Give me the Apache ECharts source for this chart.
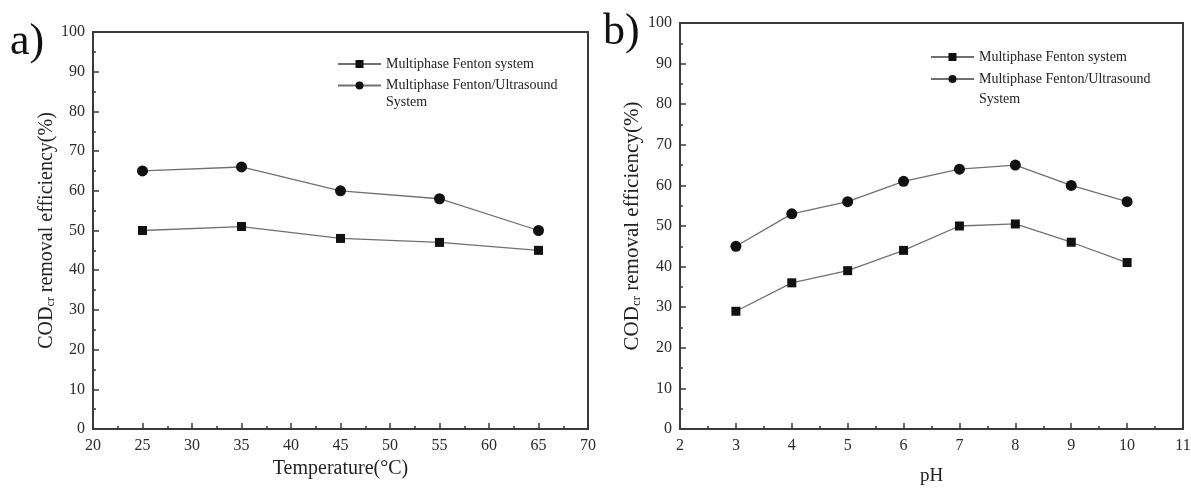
<!DOCTYPE html>
<html>
<head>
<meta charset="utf-8">
<script src="https://cdn.jsdelivr.net/npm/echarts@6/dist/echarts.min.js"></script>
<style>
html,body{margin:0;padding:0;background:#fff;}
#c{width:1191px;height:488px;}
</style>
</head>
<body>
<div id="c"></div>
<script>
// ---- data ----
const tempX = [25, 35, 45, 55, 65];
const tempFenton = [50, 51, 48, 47, 45];
const tempFentonUS = [65, 66, 60, 58, 50];

const phX = [3, 4, 5, 6, 7, 8, 9, 10];
const phFenton = [29, 36, 39, 44, 50, 50.5, 46, 41];
const phFentonUS = [45, 53, 56, 61, 64, 65, 60, 56];

const nameA = 'Multiphase Fenton system';
const nameB = 'Multiphase Fenton/Ultrasound\nSystem';
const xNameA = 'Temperature(°C)';
const xNameB = 'pH';
const yName = '{a|COD}{s|cr}{a| removal efficiency(%)}';

const FF = '"Liberation Serif","DejaVu Serif",serif';
const AX = '#3a3a3a';
const LINE = '#707070';
const MK = '#111';

function pairs(xs, ys){ return xs.map((x,i)=>[x, ys[i]]); }

function xAxis(gi, min, max, interval, name, gap, fs){
  return {
    gridIndex: gi, type: 'value', min, max, interval,
    name, nameLocation: 'middle', nameGap: gap,
    nameTextStyle: {fontFamily: FF, fontSize: fs, color: '#222'},
    axisLine: {show: true, onZero: false, lineStyle: {color: AX, width: 2}},
    axisTick: {show: true, inside: true, length: 6, lineStyle: {color: AX, width: 1.5}},
    minorTick: {show: true, splitNumber: 2, length: 3, lineStyle: {color: AX, width: 1.5}},
    axisLabel: {fontFamily: FF, fontSize: 16, color: '#2a2a2a', margin: 9},
    splitLine: {show: false}
  };
}
function yAxis(gi, gap, fs){
  return {
    gridIndex: gi, type: 'value', min: 0, max: 100, interval: 10,
    name: yName, nameLocation: 'middle', nameGap: gap, nameRotate: 90,
    nameTextStyle: {fontFamily: FF, fontSize: fs, color: '#222',
      rich: {a: {fontFamily: FF, fontSize: fs, color: '#222'},
             s: {fontFamily: FF, fontSize: Math.round(fs * 0.6), color: '#222', padding: [8,0,0,0]}}},
    axisLine: {show: true, onZero: false, lineStyle: {color: AX, width: 2}},
    axisTick: {show: true, inside: true, length: 6, lineStyle: {color: AX, width: 1.5}},
    minorTick: {show: true, splitNumber: 2, length: 3, lineStyle: {color: AX, width: 1.5}},
    axisLabel: {fontFamily: FF, fontSize: 16, color: '#2a2a2a', margin: 8},
    splitLine: {show: false}
  };
}
function series(name, gi, data, symbol, size){
  return {
    name, type: 'line', xAxisIndex: gi, yAxisIndex: gi, data,
    symbol, symbolSize: size, showSymbol: true,
    lineStyle: {color: LINE, width: 1.3},
    itemStyle: {color: MK, borderWidth: 0},
    emphasis: {disabled: true}, animation: false, z: 3
  };
}
function legend(name, left, top, lh, blankFirst){
  return {
    data: [name], left, top, padding: 0, itemWidth: 43, itemHeight: 10,
    selectedMode: false,
    formatter: blankFirst ? (n => ' \n' + n) : (n => n),
    textStyle: {fontFamily: FF, fontSize: 14, color: '#222', lineHeight: lh}
  };
}

const chart = echarts.init(document.getElementById('c'), null, {renderer: 'canvas'});
chart.setOption({
  backgroundColor: '#fff',
  animation: false,
  grid: [
    {left: 93, top: 32, width: 495, height: 397, show: true, borderColor: AX, borderWidth: 2,
     containLabel: false, outerBoundsMode: 'none'},
    {left: 680, top: 23, width: 503, height: 406, show: true, borderColor: AX, borderWidth: 2,
     containLabel: false, outerBoundsMode: 'none'}
  ],
  xAxis: [xAxis(0, 20, 70, 5, xNameA, 30, 20), xAxis(1, 2, 11, 1, xNameB, 38, 19)],
  yAxis: [yAxis(0, 36, 20), yAxis(1, 37, 21)],
  legend: [
    legend(nameA, 337, 56, 16, false),
    legend(nameB, 337, 60, 17, true),
    legend(nameA, 930, 49, 16, false),
    legend(nameB, 930, 49, 20, true)
  ],
  series: [
    series(nameA, 0, pairs(tempX, tempFenton), 'rect', 9),
    series(nameB, 0, pairs(tempX, tempFentonUS), 'circle', 11),
    series(nameA, 1, pairs(phX, phFenton), 'rect', 9),
    series(nameB, 1, pairs(phX, phFentonUS), 'circle', 11)
  ],
  graphic: [
    {type: 'text', left: 10, top: 20, style: {text: 'a)', font: '44px ' + FF, fill: '#111'}},
    {type: 'text', left: 603, top: 10, style: {text: 'b)', font: '44px ' + FF, fill: '#111'}}
  ]
});
</script>
</body>
</html>
